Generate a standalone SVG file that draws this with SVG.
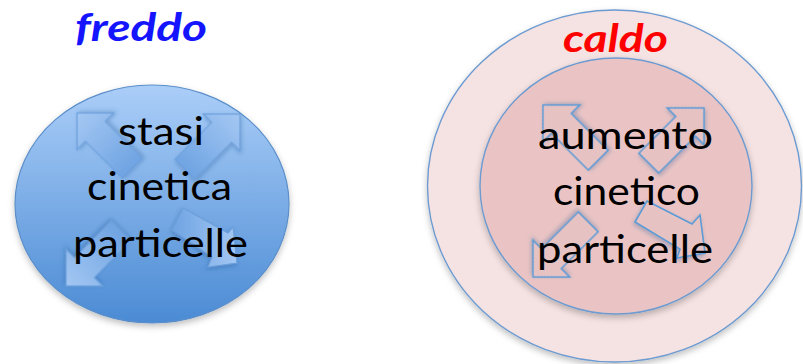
<svg xmlns="http://www.w3.org/2000/svg" width="803" height="364" viewBox="0 0 803 364">
<style>
.title{font-family:Lato,"Open Sans","Liberation Sans",sans-serif;font-weight:bold;font-style:italic;font-size:39px}
.lbl{font-family:Lato,"Open Sans","Liberation Sans",sans-serif;font-size:39px;fill:#000;text-anchor:start}
.ba{fill:url(#gArrow);stroke:#6c9fdb;stroke-width:1.2;filter:url(#sh)}
.ra{fill:#ebc6c6;fill-opacity:0.85;stroke:#5b9bd5;stroke-width:1.6;filter:url(#sh)}
</style>
<defs>
<linearGradient id="gBlue" x1="0" y1="0" x2="0" y2="1">
<stop offset="0" stop-color="#abcef8"/>
<stop offset="1" stop-color="#4b8bd4"/>
</linearGradient>
<linearGradient id="gArrow" x1="0" y1="0" x2="1" y2="0">
<stop offset="0" stop-color="#6fa4e3" stop-opacity="0.95"/>
<stop offset="1" stop-color="#a6c9f4" stop-opacity="0.97"/>
</linearGradient>
<filter id="sh" x="-20%" y="-20%" width="140%" height="140%">
<feDropShadow dx="-1" dy="2" stdDeviation="2" flood-color="#1d4f8f" flood-opacity="0.35"/>
</filter>
<filter id="shc" x="-10%" y="-10%" width="120%" height="125%">
<feDropShadow dx="0" dy="3" stdDeviation="3" flood-color="#000" flood-opacity="0.25"/>
</filter>
<path id="arr" d="M-78,-14 L-26,-14 L-26,-26 L0,0 L-26,26 L-26,14 L-78,14 Z"/>
</defs>

<g id="freddo">
<text class="title" x="75" y="41" fill="#1414ff" textLength="132" lengthAdjust="spacingAndGlyphs">freddo</text>
<ellipse cx="152" cy="204" rx="137" ry="119" fill="url(#gBlue)" stroke="#5b8fca" stroke-width="1.2" filter="url(#shc)"/>
<g id="freddo-arrows">
<use href="#arr" class="ba" transform="translate(77,113) rotate(225)"/>
<use href="#arr" class="ba" transform="translate(240,114) rotate(-45)"/>
<use href="#arr" class="ba" transform="translate(66,286) rotate(135)"/>
<polygon class="ba" points="183,208 228,233 233,227 237,263 208,267 212,257 172,230"/>
</g>
<text class="lbl" x="118" y="145" textLength="86" lengthAdjust="spacingAndGlyphs">stasi</text>
<text class="lbl" x="87" y="200" textLength="145" lengthAdjust="spacingAndGlyphs">cinetica</text>
<text class="lbl" x="73" y="257" textLength="175" lengthAdjust="spacingAndGlyphs">particelle</text>
</g>

<g id="caldo">
<ellipse cx="614.5" cy="186" rx="187" ry="176" fill="#f5e2e2" stroke="#6d9bd1" stroke-width="1.4" filter="url(#shc)"/>
<text class="title" x="563" y="52" fill="#ff0000" textLength="105" lengthAdjust="spacingAndGlyphs">caldo</text>
<ellipse cx="616" cy="186" rx="136" ry="128" fill="#eac4c4" stroke="#6d9bd1" stroke-width="1.4" filter="url(#shc)"/>
<g id="caldo-arrows">
<use href="#arr" class="ra" transform="translate(543,105) rotate(225)"/>
<use href="#arr" class="ra" transform="translate(704,108) rotate(-45)"/>
<use href="#arr" class="ra" transform="translate(533,277) rotate(135)"/>
<polygon class="ra" points="647,201 692,224 700,215 705,253 677,258 680,249 635,222"/>
</g>
<text class="lbl" x="538" y="149" textLength="175" lengthAdjust="spacingAndGlyphs">aumento</text>
<text class="lbl" x="553" y="205" textLength="147" lengthAdjust="spacingAndGlyphs">cinetico</text>
<text class="lbl" x="537" y="263" textLength="176" lengthAdjust="spacingAndGlyphs">particelle</text>
</g>

<g id="connectors"></g>
</svg>
